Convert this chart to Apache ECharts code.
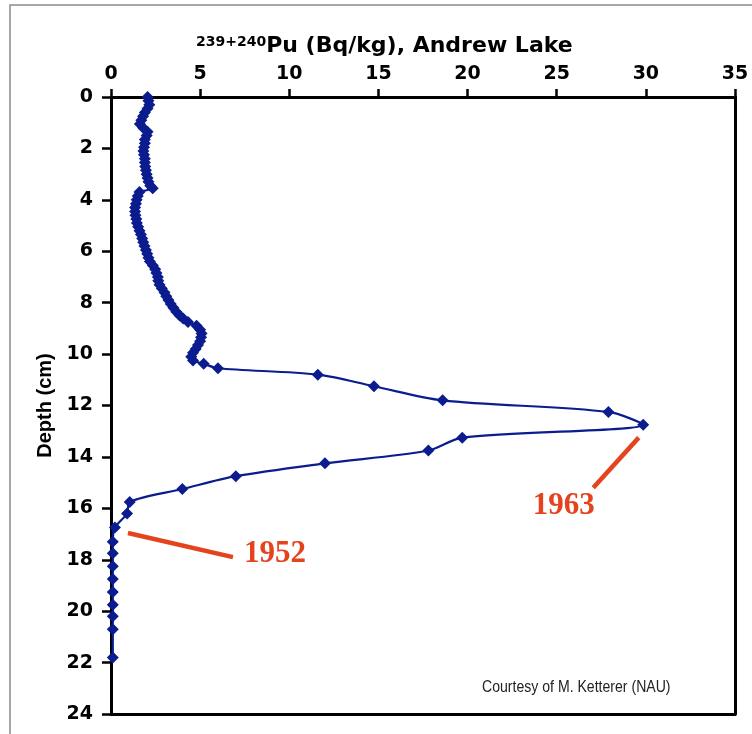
<!DOCTYPE html>
<html>
<head>
<meta charset="utf-8">
<title>Pu-239+240 profile, Andrew Lake</title>
<script src="https://cdn.jsdelivr.net/npm/echarts@6/dist/echarts.min.js"></script>
<style>
  html, body { margin: 0; padding: 0; background: #ffffff; }
  #chart { width: 752px; height: 734px; }
</style>
</head>
<body>
<div id="chart"></div>
<script>
// Sediment core profile: depth (cm) and 239+240Pu activity (Bq/kg)
const depthCm = [
  0.0, 0.15, 0.3, 0.45, 0.6, 0.75, 0.9, 1.05, 1.2, 1.35,
  1.5, 1.65, 1.8, 1.95, 2.1, 2.25, 2.4, 2.55, 2.7, 2.85,
  3.0, 3.15, 3.3, 3.45, 3.55, 3.7, 3.85, 4.0, 4.15, 4.3,
  4.45, 4.6, 4.75, 4.9, 5.05, 5.2, 5.35, 5.5, 5.65, 5.8,
  5.95, 6.1, 6.25, 6.4, 6.55, 6.7, 6.85, 7.0, 7.15, 7.3,
  7.45, 7.6, 7.75, 7.9, 8.05, 8.2, 8.35, 8.5, 8.62, 8.75,
  8.9, 9.05, 9.2, 9.35, 9.5, 9.65, 9.8, 9.95, 10.1, 10.25,
  10.38, 10.55, 10.8, 11.25, 11.8, 12.25, 12.75, 13.25, 13.75, 14.25,
  14.75, 15.25, 15.75, 16.2, 16.75, 17.3, 17.75, 18.25, 18.75, 19.25,
  19.75, 20.2, 20.7, 21.8
];
const puBqKg = [
  2.05, 2.1, 2.15, 2.05, 1.9, 1.8, 1.7, 1.62, 1.8, 2.05,
  2.0, 1.9, 1.9, 1.85, 1.82, 1.85, 1.9, 1.9, 1.92, 1.96,
  2.0, 2.05, 2.1, 2.2, 2.34, 1.6, 1.5, 1.44, 1.4, 1.35,
  1.35, 1.37, 1.42, 1.45, 1.52, 1.6, 1.68, 1.75, 1.81, 1.88,
  1.96, 2.03, 2.1, 2.18, 2.35, 2.48, 2.55, 2.63, 2.65, 2.72,
  2.85, 3.0, 3.1, 3.22, 3.35, 3.5, 3.66, 3.85, 4.05, 4.32,
  4.8, 5.0, 5.08, 5.05, 5.0, 4.88, 4.75, 4.6, 4.5, 4.6,
  5.2, 6.0, 11.6, 14.75, 18.6, 27.9, 29.85, 19.7, 17.8, 12.0,
  7.0, 4.0, 1.05, 0.9, 0.22, 0.1, 0.1, 0.1, 0.1, 0.1,
  0.1, 0.1, 0.1, 0.1
];

// Axis ticks
const puTicks = [0, 5, 10, 15, 20, 25, 30, 35];
const depthTicks = [0, 2, 4, 6, 8, 10, 12, 14, 16, 18, 20, 22, 24];

// Dated horizons: leader line (activity, depth) pairs and label anchor
const horizonLabels = ['1963', '1952'];
const horizonLeaderFrom = [[29.6, 13.25], [0.95, 16.96]];
const horizonLeaderTo = [[27.05, 15.2], [6.84, 17.9]];
const horizonTextAt = [[25.4, 15.9], [9.2, 17.78]];

const navy = '#0b1c8f';
const red = '#e4431d';

const chart = echarts.init(document.getElementById('chart'), null, { renderer: 'canvas' });

const profile = depthCm.map((d, i) => [puBqKg[i], d]);

const axisLineStyle = { color: '#000', width: 3 };
const tickFont = {
  fontFamily: 'DejaVu Sans', fontWeight: 'bold', fontSize: 19, color: '#000'
};

chart.setOption({
  animation: false,
  backgroundColor: '#ffffff',
  title: {
    left: 191, top: 30,
    text: '{sup|239+240}{main|Pu (Bq/kg), Andrew Lake}',
    textStyle: {
      rich: {
        sup: { fontFamily: 'DejaVu Sans', fontWeight: 'bold', fontSize: 14, color: '#000',
               verticalAlign: 'top', padding: [0, 0, 9, 0] },
        main: { fontFamily: 'DejaVu Sans', fontWeight: 'bold', fontSize: 22, color: '#000' }
      }
    }
  },
  grid: { left: 111, top: 97, right: 17, bottom: 20, containLabel: false },
  xAxis: [
    {
      type: 'value', position: 'top', min: puTicks[0], max: puTicks[puTicks.length - 1], interval: 5,
      axisLine: { show: true, lineStyle: axisLineStyle },
      axisTick: { show: true, length: 8, lineStyle: { color: '#000', width: 2.5 } },
      axisLabel: Object.assign({ margin: 13 }, tickFont),
      splitLine: { show: false }
    },
    {
      type: 'value', position: 'bottom', min: 0, max: 35,
      axisLine: { show: true, onZero: false, lineStyle: axisLineStyle },
      axisTick: { show: false }, axisLabel: { show: false }, splitLine: { show: false }
    }
  ],
  yAxis: [
    {
      type: 'value', inverse: true, min: depthTicks[0], max: depthTicks[depthTicks.length - 1], interval: 2,
      name: 'Depth (cm)', nameLocation: 'middle', nameGap: 56, nameRotate: 90,
      nameTextStyle: { fontFamily: 'Liberation Sans', fontWeight: 'bold', fontSize: 20, color: '#000' },
      axisLine: { show: true, onZero: false, lineStyle: axisLineStyle },
      axisTick: { show: true, length: 9, lineStyle: { color: '#000', width: 2.5 } },
      axisLabel: Object.assign({ margin: 18 }, tickFont),
      splitLine: { show: false }
    },
    {
      type: 'value', position: 'right', inverse: true, min: 0, max: 24,
      axisLine: { show: true, onZero: false, lineStyle: axisLineStyle },
      axisTick: { show: false }, axisLabel: { show: false }, splitLine: { show: false }
    }
  ],
  graphic: [
    {
      type: 'rect', silent: true, z: -1,
      shape: { x: 10, y: 5, width: 800, height: 800 },
      style: { fill: 'none', stroke: '#8a8a8a', lineWidth: 1.5 }
    },
    {
      type: 'text', x: 482, y: 680, scaleX: 0.88,
      style: {
        text: 'Courtesy of M. Ketterer (NAU)',
        font: '16px "Liberation Sans", sans-serif',
        fill: '#222'
      }
    }
  ],
  series: [
    {
      type: 'line',
      xAxisIndex: 0, yAxisIndex: 0,
      data: profile,
      smooth: 0.3,
      symbol: 'diamond',
      symbolSize: 12,
      showAllSymbol: true,
      lineStyle: { color: navy, width: 2.2 },
      itemStyle: { color: navy },
      markLine: {
        silent: true, symbol: ['none', 'none'], animation: false,
        label: { show: false },
        lineStyle: { color: red, width: 4.5, type: 'solid' },
        emphasis: { disabled: true },
        data: horizonLabels.map((_, i) => [
          { coord: horizonLeaderFrom[i] },
          { coord: horizonLeaderTo[i] }
        ])
      },
      markPoint: {
        silent: true, animation: false,
        symbol: 'rect', symbolSize: 1,
        itemStyle: { color: 'rgba(0,0,0,0)' },
        label: {
          show: true, position: 'inside',
          fontFamily: 'Liberation Serif', fontWeight: 'bold', fontSize: 31, color: red,
          formatter: p => p.name
        },
        data: horizonLabels.map((t, i) => ({ name: t, coord: horizonTextAt[i] }))
      }
    }
  ]
});
</script>
</body>
</html>
